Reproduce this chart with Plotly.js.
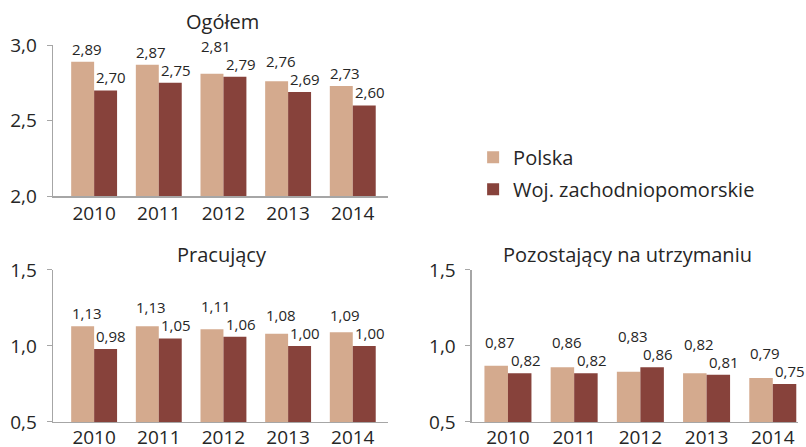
<!DOCTYPE html>
<html>
<head>
<meta charset="utf-8">
<script src="https://cdn.plot.ly/plotly-3.0.1.min.js"></script>
<style>body{margin:0;background:#fff}</style>
</head>
<body>
<div id="chart" style="width:806px;height:447px"></div>
<script>
var years = ['2010', '2011', '2012', '2013', '2014'];

var ogolemPolska = [2.89, 2.87, 2.81, 2.76, 2.73];
var ogolemWoj = [2.70, 2.75, 2.79, 2.69, 2.60];

var pracPolska = [1.13, 1.13, 1.11, 1.08, 1.09];
var pracWoj = [0.98, 1.05, 1.06, 1.00, 1.00];

var pozPolska = [0.87, 0.86, 0.83, 0.82, 0.79];
var pozWoj = [0.82, 0.82, 0.86, 0.81, 0.75];

var colPolska = '#d4aa8e';
var colWoj = '#87423b';
var txt = '#262626';

function fmt(v) {
	return v.toFixed(2).replace('.', ',');
}

function bars(vals, name, color, xa, ya, show) {
	return {
		x: years,
		y: vals,
		name: name,
		type: 'bar',
		xaxis: xa,
		yaxis: ya,
		marker: {color: color},
		showlegend: show,
		legendgroup: name,
		hoverinfo: 'skip'
	};
}

var data = [
	bars(ogolemPolska, 'Polska', colPolska, 'x', 'y', true),
	bars(ogolemWoj, 'Woj. zachodniopomorskie', colWoj, 'x', 'y', true),
	bars(pracPolska, 'Polska', colPolska, 'x2', 'y2', false),
	bars(pracWoj, 'Woj. zachodniopomorskie', colWoj, 'x2', 'y2', false),
	bars(pozPolska, 'Polska', colPolska, 'x3', 'y3', false),
	bars(pozWoj, 'Woj. zachodniopomorskie', colWoj, 'x3', 'y3', false)
];

// value labels: Polska label lifted above the Woj label when they would collide
var half = 0.175;
function valueLabels(pol, woj, xr, yr) {
	var out = [];
	years.forEach(function (yr_, i) {
		out.push({
			text: fmt(pol[i]), xref: xr, yref: yr,
			x: i - half, y: Math.max(pol[i], woj[i] + 0.12),
			xshift: 4, yshift: 1, yanchor: 'bottom', xanchor: 'center',
			showarrow: false, font: {size: 15, color: txt}
		});
		out.push({
			text: fmt(woj[i]), xref: xr, yref: yr,
			x: i + half, y: woj[i],
			xshift: 6, yshift: 1, yanchor: 'bottom', xanchor: 'center',
			showarrow: false, font: {size: 15, color: txt}
		});
	});
	return out;
}

var axisLine = '#a6a6a6';

function xax(dom, anchor, range, standoff) {
	return {
		domain: dom, anchor: anchor, type: 'category', range: range,
		showline: true, linecolor: axisLine, linewidth: 1.5,
		ticks: '', showgrid: false,
		ticklabelstandoff: standoff,
		tickfont: {size: 19, color: txt}
	};
}

function yax(dom, anchor, range) {
	return {
		domain: dom, anchor: anchor, range: range, dtick: 0.5,
		tickformat: '.1f', showline: true, linecolor: axisLine, linewidth: 1.5,
		ticks: 'outside', ticklen: 5, tickcolor: axisLine,
		ticklabelstandoff: 6,
		showgrid: false, zeroline: false,
		tickfont: {size: 19, color: txt}
	};
}

var titles = [
	{text: 'Ogółem', x: 222, y: 22},
	{text: 'Pracujący', x: 222, y: 255},
	{text: 'Pozostający na utrzymaniu', x: 627, y: 255}
].map(function (a) {
	return {
		text: a.text, x: a.x / 806, y: 1 - a.y / 447,
		xref: 'paper', yref: 'paper', showarrow: false,
		xanchor: 'center', yanchor: 'middle',
		font: {size: 20, color: txt}
	};
});

var layout = {
	width: 806,
	height: 447,
	margin: {l: 0, r: 0, t: 0, b: 0},
	separators: ', ',
	font: {family: 'Open Sans, sans-serif', color: txt},
	paper_bgcolor: '#fff',
	plot_bgcolor: '#fff',
	barmode: 'group',
	bargap: 0.29,
	bargroupgap: 0,
	xaxis: xax([0.066, 0.481], 'y', [-0.633, 4.54], 0),
	yaxis: yax([0.5615, 0.899], 'x', [2, 3]),
	xaxis2: xax([0.066, 0.481], 'y2', [-0.633, 4.54], -2),
	yaxis2: yax([0.056, 0.396], 'x2', [0.5, 1.5]),
	xaxis3: xax([0.5856, 0.99], 'y3', [-0.543, 4.38], -2),
	yaxis3: yax([0.056, 0.396], 'x3', [0.5, 1.5]),
	legend: {
		x: 0.587, y: 0.692, xanchor: 'left', yanchor: 'top',
		font: {size: 20, color: txt},
		traceorder: 'grouped', tracegroupgap: 3,
		bgcolor: 'rgba(0,0,0,0)'
	},
	annotations: titles
		.concat(valueLabels(ogolemPolska, ogolemWoj, 'x', 'y'))
		.concat(valueLabels(pracPolska, pracWoj, 'x2', 'y2'))
		.concat(valueLabels(pozPolska, pozWoj, 'x3', 'y3'))
};

Plotly.newPlot('chart', data, layout, {displayModeBar: false, staticPlot: true});
</script>
</body>
</html>
